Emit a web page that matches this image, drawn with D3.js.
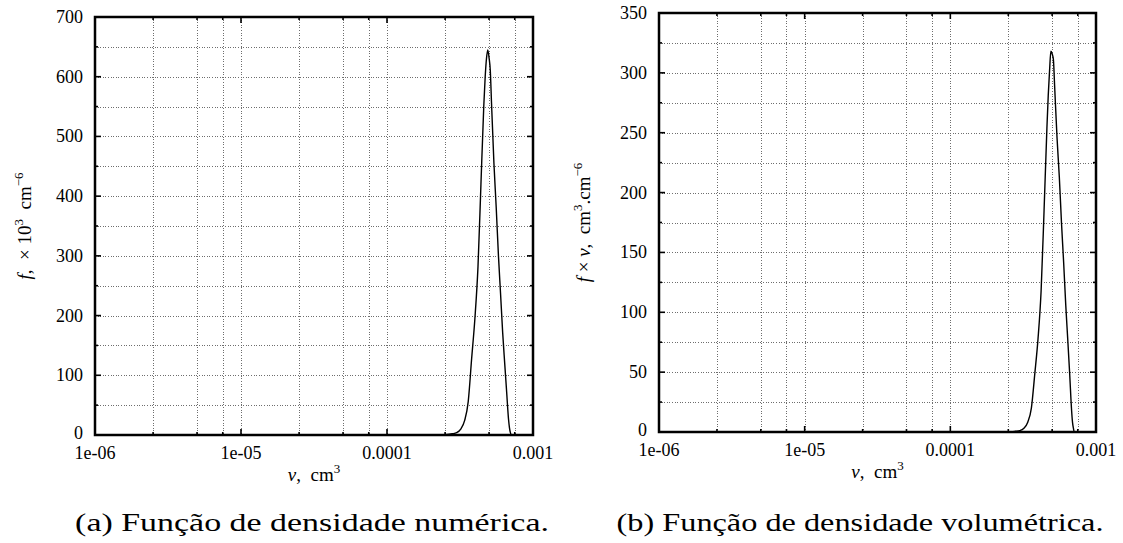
<!DOCTYPE html>
<meta charset="utf-8">
<style>
body { margin: 0; background: #fff; }
svg { display: block; }
text { font-family: "Liberation Serif", "DejaVu Serif", serif; fill: #000; }
.tick-label { font-size: 18px; }
.axis-label { font-size: 19px; }
.grid line { stroke: #6e6e6e; stroke-width: 1; stroke-dasharray: 1,1.6; shape-rendering: crispEdges; }
.caption { font-family: "Liberation Serif", serif; font-size: 25px; }
</style>
<body>
<script src="https://cdn.jsdelivr.net/npm/d3@7/dist/d3.min.js"></script>
<script>

// droplet volume, cm^3
var volume = [1e-6, 2.2e-4, 2.5e-4, 2.8e-4, 3.0e-4, 3.2e-4, 3.4e-4, 3.6e-4, 3.8e-4, 4.0e-4,
              4.2e-4, 4.4e-4, 4.6e-4, 4.7e-4, 4.8e-4, 4.9e-4, 5.0e-4, 5.1e-4, 5.2e-4, 5.4e-4,
              5.6e-4, 5.8e-4, 6.0e-4, 6.2e-4, 6.4e-4, 6.6e-4, 6.8e-4, 6.9e-4, 7.0e-4, 7.1e-4, 1e-3];

// (a) number density f, x 10^3 cm^-6
var numberDensity = [0, 0, 0.5, 2, 4, 10, 24, 56, 128, 195,
                     282, 420, 550, 598, 630, 645, 632, 610, 555, 455,
                     380, 300, 235, 171, 120, 72, 26, 12, 4, 0, 0];

// (b) volume density f x v, cm^3.cm^-6
var volumeDensity = [0, 0, 0, 0.6, 1.2, 3.2, 8.2, 20, 48.6, 78,
                     118, 185, 253, 281, 302, 318, 316, 311, 289, 246,
                     213, 174, 141, 106, 77, 48, 18, 8, 3, 0, 0];

var xMajorTicks = [1e-6, 1e-5, 1e-4, 1e-3];
var xTickLabels = ["1e-06", "1e-05", "0.0001", "0.001"];
var xMinorTicks = [2.5e-6, 5e-6, 7.5e-6, 2.5e-5, 5e-5, 7.5e-5, 2.5e-4, 5e-4, 7.5e-4];

var yTicksA = [0, 100, 200, 300, 400, 500, 600, 700];
var yTicksB = [0, 50, 100, 150, 200, 250, 300, 350];

var width = 1123,
    height = 543;

var svg = d3.select("body").append("svg")
    .attr("width", width)
    .attr("height", height);

function panel(o) {
  var x = d3.scaleLog().domain([1e-6, 1e-3]).range([o.left, o.right]);
  var y = d3.scaleLinear().domain([0, o.yTicks[o.yTicks.length - 1]]).range([o.bottom, o.top]);
  var g = svg.append("g");
  var yMinor = d3.range(o.yStep / 2, o.yTicks[o.yTicks.length - 1], o.yStep);

  // grid
  var grid = g.append("g").attr("class", "grid");
  grid.selectAll(".gx").data(xMinorTicks.concat(xMajorTicks.slice(1, 3)))
    .enter().append("line")
      .attr("x1", function(d) { return Math.round(x(d)) + 0.5; })
      .attr("x2", function(d) { return Math.round(x(d)) + 0.5; })
      .attr("y1", o.top).attr("y2", o.bottom);
  grid.selectAll(".gy").data(yMinor.concat(o.yTicks.slice(1, -1)))
    .enter().append("line")
      .attr("y1", function(d) { return Math.round(y(d)) + 0.5; })
      .attr("y2", function(d) { return Math.round(y(d)) + 0.5; })
      .attr("x1", o.left).attr("x2", o.right);

  // inward ticks on all four sides
  var ticks = g.append("g").attr("stroke", "#000").attr("stroke-width", 1.6);
  function xt(vals, len) {
    vals.forEach(function(d) {
      ticks.append("line").attr("x1", x(d)).attr("x2", x(d)).attr("y1", o.bottom).attr("y2", o.bottom - len);
      ticks.append("line").attr("x1", x(d)).attr("x2", x(d)).attr("y1", o.top).attr("y2", o.top + len);
    });
  }
  function yt(vals, len) {
    vals.forEach(function(d) {
      ticks.append("line").attr("y1", y(d)).attr("y2", y(d)).attr("x1", o.left).attr("x2", o.left + len);
      ticks.append("line").attr("y1", y(d)).attr("y2", y(d)).attr("x1", o.right).attr("x2", o.right - len);
    });
  }
  xt(xMajorTicks, 6); xt(xMinorTicks, 3);
  yt(o.yTicks, 6); yt(yMinor, 3);

  // curve
  var clipId = "clip" + o.id;
  svg.append("clipPath").attr("id", clipId).append("rect")
    .attr("x", o.left).attr("y", o.top - 2)
    .attr("width", o.right - o.left).attr("height", o.bottom - o.top + 2);
  var pts = volume.map(function(v, i) { return {v: v, f: o.values[i]}; });
  g.append("path")
    .datum(pts)
    .attr("clip-path", "url(#" + clipId + ")")
    .attr("fill", "none")
    .attr("stroke", "#000")
    .attr("stroke-width", 1.4)
    .attr("d", d3.line()
      .x(function(d) { return x(d.v); })
      .y(function(d) { return y(d.f); })
      .curve(d3.curveMonotoneX));

  // frame
  g.append("rect")
    .attr("x", o.left).attr("y", o.top)
    .attr("width", o.right - o.left).attr("height", o.bottom - o.top)
    .attr("fill", "none").attr("stroke", "#000").attr("stroke-width", 2.5);

  // tick labels
  g.selectAll(".xl").data(xMajorTicks).enter().append("text")
    .attr("class", "tick-label")
    .attr("x", function(d) { return x(d); })
    .attr("y", o.bottom + 24)
    .attr("text-anchor", "middle")
    .text(function(d, i) { return xTickLabels[i]; });
  g.selectAll(".yl").data(o.yTicks).enter().append("text")
    .attr("class", "tick-label")
    .attr("x", o.left - 12)
    .attr("y", function(d) { return y(d) + (d === 0 ? 4 : 6); })
    .attr("text-anchor", "end")
    .text(function(d) { return d; });

  // x label: v, cm^3
  var xl = g.append("text").attr("class", "axis-label")
    .attr("x", (o.left + o.right) / 2).attr("y", o.bottom + 46)
    .attr("text-anchor", "middle");
  xl.append("tspan").attr("font-style", "italic").text("v");
  xl.append("tspan").text(",\u00a0\u00a0cm");
  xl.append("tspan").attr("font-size", 13).attr("dy", -8).text("3");

  // y label
  var yl = g.append("text").attr("class", "axis-label")
    .attr("transform", "translate(" + o.yLabelX + "," + ((o.top + o.bottom) / 2) + ") rotate(-90)")
    .attr("text-anchor", "middle");
  o.yLabel.forEach(function(p) {
    var t = yl.append("tspan").text(p.t);
    if (p.i) t.attr("font-style", "italic");
    if (p.sup) t.attr("font-size", 13).attr("dy", -8);
    if (p.down) t.attr("dy", 8);
  });

  // caption, stretched horizontally to the width of the original
  var cap = svg.append("text").attr("class", "caption")
    .attr("text-anchor", "middle")
    .text(o.caption);
  var sx = o.capW / cap.node().getComputedTextLength();
  cap.attr("transform", "translate(" + o.capX + ",531) scale(" + sx + ",1)");
}

panel({
  id: "a", left: 95, right: 533, top: 17, bottom: 435,
  yTicks: yTicksA, yStep: 100, values: numberDensity,
  yLabelX: 31,
  yLabel: [{t: "f", i: true}, {t: ",\u00a0\u00a0\u00d7\u00a010"}, {t: "3", sup: true},
           {t: "\u00a0\u00a0cm", down: true}, {t: "\u22126", sup: true}],
  capX: 312, capW: 474, caption: "(a) Função de densidade numérica."
});

panel({
  id: "b", left: 659, right: 1096, top: 13, bottom: 432,
  yTicks: yTicksB, yStep: 50, values: volumeDensity,
  yLabelX: 590,
  yLabel: [{t: "f", i: true}, {t: "\u00a0\u00d7\u00a0"}, {t: "v", i: true}, {t: ",\u00a0\u00a0cm"},
           {t: "3", sup: true}, {t: ".cm", down: true}, {t: "\u22126", sup: true}],
  capX: 860, capW: 487, caption: "(b) Função de densidade volumétrica."
});

</script>
</body>
